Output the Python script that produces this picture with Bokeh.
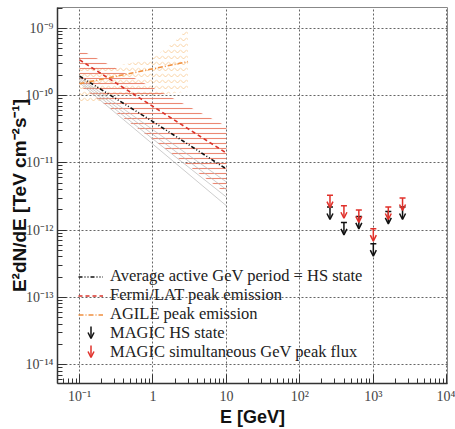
from bokeh.plotting import figure
from bokeh.models import (ColumnDataSource, Arrow, OpenHead, Legend, LegendItem,
                          FixedTicker, Range1d)
from bokeh.embed import file_html
from bokeh.resources import INLINE

# ---------------- data ----------------
# Average active GeV period = HS state (power law)
avg_e = [0.1, 1.0, 10.0]
avg_f = [1.95e-10, 4.1e-11, 8.1e-12]
# thin grey lines (uncertainty of the average spectrum)
grey_e = [0.1, 10.0]
grey_f1 = [1.85e-10, 5.2e-12]
grey_f2 = [1.75e-10, 4.0e-12]
grey_f3 = [1.65e-10, 3.1e-12]
grey_f4 = [1.55e-10, 2.3e-12]
# Fermi/LAT peak emission
fermi_e = [0.1, 10.0]
fermi_f = [3.4e-10, 1.4e-11]
fermi_band_e = [0.1, 10.0, 10.0, 0.1]
fermi_band_f = [4.9e-10, 3.5e-11, 3.5e-12, 1.4e-10]
# AGILE peak emission
agile_e = [0.1, 3.0]
agile_f = [1.5e-10, 3.2e-10]
agile_band_e = [0.1, 0.3, 1.0, 2.0, 3.0, 3.0, 1.0, 0.3, 0.1]
agile_band_f = [2.7e-10, 2.7e-10, 3.6e-10, 6.5e-10, 1.0e-9,
                1.15e-10, 1.0e-10, 9.0e-11, 7.5e-11]
# MAGIC upper limits
magic_e = [257, 398, 635, 1000, 1600, 2500]
magic_hs_ul = [2.2e-12, 1.3e-12, 1.6e-12, 6.3e-13, 1.9e-12, 2.2e-12]
magic_sim_ul = [3.3e-12, 2.3e-12, 2.0e-12, 1.05e-12, 2.2e-12, 3.0e-12]
arrow_factor = 1.53

# legend labels
legend_labels = ["Average active GeV period = HS state",
                 "Fermi/LAT peak emission",
                 "AGILE peak emission",
                 "MAGIC HS state",
                 "MAGIC simultaneous GeV peak flux"]

# ticks
x_major = [0.1, 1.0, 10.0, 100.0, 1000.0, 10000.0]
x_labels = ["10\u207b\u00b9", "1", "10", "10\u00b2", "10\u00b3", "10\u2074"]
y_major = [1e-14, 1e-13, 1e-12, 1e-11, 1e-10, 1e-9]
y_labels = ["10\u207b\u00b9\u2074", "10\u207b\u00b9\u00b3", "10\u207b\u00b9\u00b2",
            "10\u207b\u00b9\u00b9", "10\u207b\u00b9\u2070", "10\u207b\u2079"]

x_minor = [m * 10.0 ** k for k in range(-2, 4) for m in range(2, 10)]
y_minor = [m * 10.0 ** k for k in range(-15, -8) for m in range(2, 10)]

# ---------------- figure ----------------
p = figure(width=455, height=429, x_axis_type="log", y_axis_type="log",
           x_range=Range1d(10 ** -1.3, 10 ** 4.01),
           y_range=Range1d(10 ** -14.28, 10 ** -8.69),
           output_backend="svg", toolbar_location=None,
           min_border_left=57, min_border_right=8, min_border_top=7,
           min_border_bottom=44)
p.background_fill_color = "white"
p.border_fill_color = "white"
p.outline_line_color = "#888888"
p.outline_line_width = 1

xt = FixedTicker(ticks=x_major, minor_ticks=x_minor)
yt = FixedTicker(ticks=y_major, minor_ticks=y_minor)
p.xaxis.ticker = xt
p.yaxis.ticker = yt
p.xgrid.ticker = xt
p.ygrid.ticker = yt
p.xaxis.major_label_overrides = dict(zip(x_major, x_labels))
p.yaxis.major_label_overrides = dict(zip(y_major, y_labels))

for g in (p.xgrid, p.ygrid):
    g.grid_line_color = "#555555"
    g.grid_line_dash = "2 2"
    g.grid_line_width = 1
    g.grid_line_alpha = 0.9

for ax in (p.xaxis, p.yaxis):
    ax.axis_line_color = "#333333"
    ax.axis_line_width = 1.5
    ax.major_tick_in = 9
    ax.major_tick_out = 0
    ax.minor_tick_in = 5
    ax.minor_tick_out = 0
    ax.major_tick_line_color = "#333333"
    ax.minor_tick_line_color = "#333333"
    ax.major_label_text_font = "Liberation Serif"
    ax.major_label_text_font_size = "14px"
    ax.major_label_text_color = "#444444"
    ax.axis_label_text_font = "Liberation Sans"
    ax.axis_label_text_font_style = "bold"
    ax.axis_label_text_color = "#111111"

p.xaxis.axis_label = "E [GeV]"
p.yaxis.axis_label = "E\u00b2dN/dE [TeV cm\u207b\u00b2s\u207b\u00b9]"
p.xaxis.axis_label_text_font_size = "18px"
p.yaxis.axis_label_text_font_size = "19px"
p.xaxis.major_label_standoff = 5
p.xaxis.axis_label_standoff = 0
p.yaxis.major_label_standoff = 4
p.yaxis.axis_label_standoff = -8

# ---------------- bands ----------------
p.patch(agile_band_e, agile_band_f, fill_alpha=0, line_alpha=0,
        hatch_pattern="horizontal_wave", hatch_color="#f5b870",
        hatch_scale=6, hatch_weight=0.8, hatch_alpha=0.8)
p.patch(fermi_band_e, fermi_band_f, fill_alpha=0, line_alpha=0,
        hatch_pattern="horizontal_line", hatch_color="#e8735a",
        hatch_scale=5, hatch_weight=1.1, hatch_alpha=0.85)

for gf in (grey_f1, grey_f2, grey_f3, grey_f4):
    p.line(grey_e, gf, line_color="#b8b8b8", line_width=0.7)

# ---------------- lines ----------------
r_avg = p.line(avg_e, avg_f, line_color="#111111", line_width=1.6,
               line_dash="4 2 1 2 1 2")
r_fermi = p.line(fermi_e, fermi_f, line_color="#d9342b", line_width=1.6,
                 line_dash="4 3")
r_agile = p.line(agile_e, agile_f, line_color="#f09040", line_width=1.6,
                 line_dash="5 2 1 2")

# ---------------- MAGIC upper limits ----------------
def add_uls(ul, color):
    src = ColumnDataSource(dict(x=magic_e, y0=ul,
                                y1=[v / arrow_factor for v in ul]))
    p.add_layout(Arrow(end=OpenHead(size=6, line_color=color, line_width=1.5),
                       x_start="x", y_start="y0", x_end="x", y_end="y1",
                       line_color=color, line_width=1.5, source=src))
    p.scatter("x", "y0", source=src, marker="dash", size=6,
              line_color=color, line_width=1.5)
    return p.scatter("x", "y0", source=src, size=0, alpha=0)

r_hs = add_uls(magic_hs_ul, "#111111")
r_sim = add_uls(magic_sim_ul, "#e0302a")

# ---------------- legend (one row per Legend for exact row spacing) ----------------
renderers = [r_avg, r_fermi, r_agile, r_hs, r_sim]
row_bottoms = [97, 78, 59, 40, 21]   # px above the frame bottom
for lab, rend, yb in zip(legend_labels, renderers, row_bottoms):
    lg = Legend(items=[LegendItem(label=lab, renderers=[rend])],
                location=(21, yb))
    lg.background_fill_alpha = 0
    lg.border_line_alpha = 0
    lg.padding = 0
    lg.margin = 0
    lg.spacing = 0
    lg.glyph_width = 25
    lg.glyph_height = 17
    lg.label_height = 17
    lg.label_standoff = 7
    lg.label_text_font = "Liberation Serif"
    lg.label_text_font_size = "16.5px"
    lg.label_text_color = "#222222"
    p.add_layout(lg)

# legend arrow icons (screen units, relative to the frame)
for yc, color in ((51, "#111111"), (32, "#e0302a")):
    p.add_layout(Arrow(end=OpenHead(size=6, line_color=color, line_width=1.5),
                       x_start=33.5, y_start=yc + 6, x_end=33.5, y_end=yc - 6,
                       start_units="screen", end_units="screen",
                       line_color=color, line_width=1.5))

open("out.html", "w").write(file_html(p, INLINE))
